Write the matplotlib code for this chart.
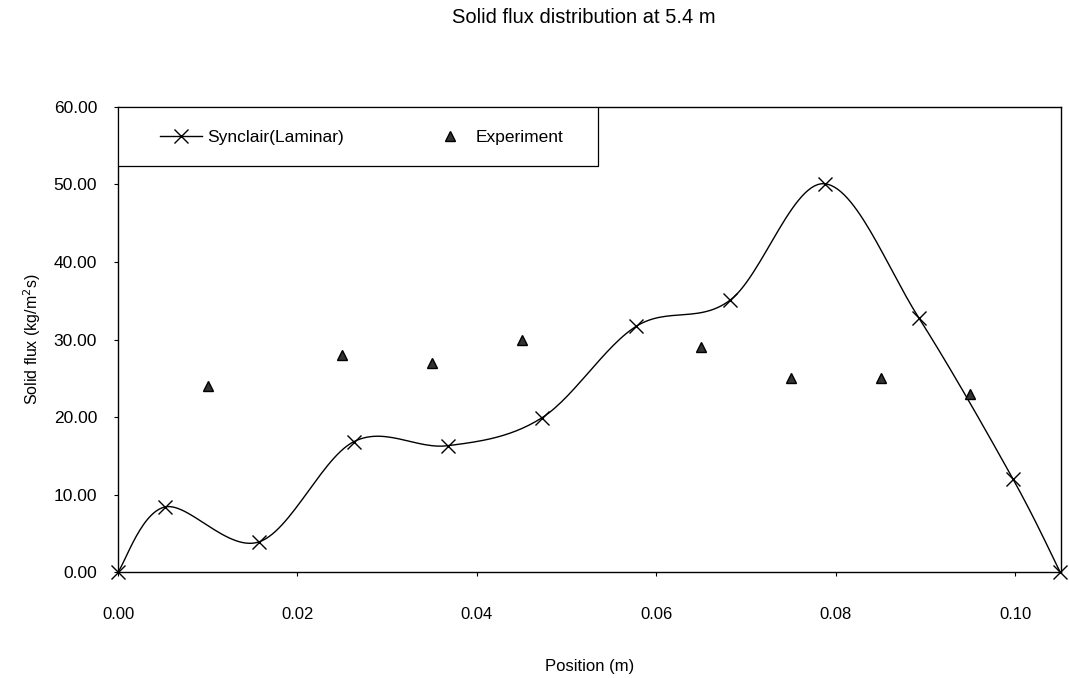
import numpy as np
import matplotlib.pyplot as plt
from matplotlib.patches import Rectangle

plt.rcParams["font.family"] = ["Liberation Sans", "DejaVu Sans"]

# Synclair (Laminar) simulation
sim_x = [0.0, 0.00525, 0.01575, 0.02625, 0.03675, 0.04725, 0.05775,
         0.06825, 0.07875, 0.08925, 0.09975, 0.105]
sim_y = [0.0, 8.4, 3.9, 16.8, 16.3, 19.9, 31.7, 35.1, 50.1, 32.8, 12.0, 0.0]

# Experiment
exp_x = [0.010, 0.025, 0.035, 0.045, 0.065, 0.075, 0.085, 0.095]
exp_y = [24.0, 28.0, 27.0, 30.0, 29.0, 25.0, 25.0, 23.0]

x_ticks = [0.00, 0.02, 0.04, 0.06, 0.08, 0.10]
y_ticks = [0, 10, 20, 30, 40, 50, 60]


def smooth(xs, ys, n=30):
    # excel-like smoothed line: cubic bezier with catmull-rom style handles
    xs = np.asarray(xs, float)
    ys = np.asarray(ys, float)
    px = np.concatenate([[xs[0]], xs, [xs[-1]]])
    py = np.concatenate([[ys[0]], ys, [ys[-1]]])
    outx, outy = [], []
    t = np.linspace(0, 1, n)
    for i in range(1, len(px) - 2):
        p0 = np.array([px[i], py[i]])
        p3 = np.array([px[i + 1], py[i + 1]])
        p1 = p0 + (np.array([px[i + 1], py[i + 1]]) - np.array([px[i - 1], py[i - 1]])) / 6
        p2 = p3 - (np.array([px[i + 2], py[i + 2]]) - np.array([px[i], py[i]])) / 6
        b = ((1 - t) ** 3)[:, None] * p0 + (3 * (1 - t) ** 2 * t)[:, None] * p1 \
            + (3 * (1 - t) * t ** 2)[:, None] * p2 + (t ** 3)[:, None] * p3
        outx.extend(b[:, 0])
        outy.extend(b[:, 1])
    return outx, outy


fig = plt.figure(figsize=(10.69, 6.78), dpi=100)
ax = fig.add_axes([0.1104, 0.1563, 0.8821, 0.6859])

cx, cy = smooth(sim_x, sim_y)
ax.plot(cx, cy, color="black", lw=1.0, clip_on=False)
ax.plot(sim_x, sim_y, ls="none", marker="x", ms=10, mew=1.0, color="black",
        clip_on=False, zorder=4)
ax.plot([], [], color="black", lw=1.0, marker="x", ms=10, mew=1.0,
        label="Synclair(Laminar)")
ax.plot(exp_x, exp_y, ls="none", marker="^", ms=7.5, color="#333333",
        mec="black", label="Experiment", zorder=4)

ax.set_xlim(0, 0.1051)
ax.set_ylim(0, 60)
ax.set_xticks(x_ticks)
ax.set_yticks(y_ticks)
ax.set_xticklabels(["%.2f" % v for v in x_ticks], fontsize=12)
ax.set_yticklabels(["%.2f" % v for v in y_ticks], fontsize=12.5)
ax.tick_params(direction="out", length=3, width=0.8)
ax.tick_params(axis="y", pad=12)
ax.tick_params(axis="x", pad=22)
for s in ax.spines.values():
    s.set_linewidth(1.0)

ax.set_xlabel("Position (m)", fontsize=12, va="center")
ax.xaxis.set_label_coords(0.5, -0.204)
ax.set_ylabel("Solid flux (kg/m$^2$s)", fontsize=11.5, va="center")
ax.yaxis.set_label_coords(-0.091, 0.5)
fig.text(0.546, 0.974, "Solid flux distribution at 5.4 m", fontsize=14.5,
         ha="center", va="center")

# legend box
ax.add_patch(Rectangle((0, 0.873), 0.509, 0.127, transform=ax.transAxes,
                       fill=True, facecolor="white", edgecolor="black",
                       lw=0.9, zorder=5))
leg = ax.legend(loc="center left", bbox_to_anchor=(0.0445, 0.935),
                ncol=2, frameon=False, fontsize=12.5, borderpad=0,
                borderaxespad=0, handlelength=2.4, handletextpad=0.3,
                columnspacing=4.9)
leg.set_zorder(6)

fig.savefig("out.png", dpi=100)
